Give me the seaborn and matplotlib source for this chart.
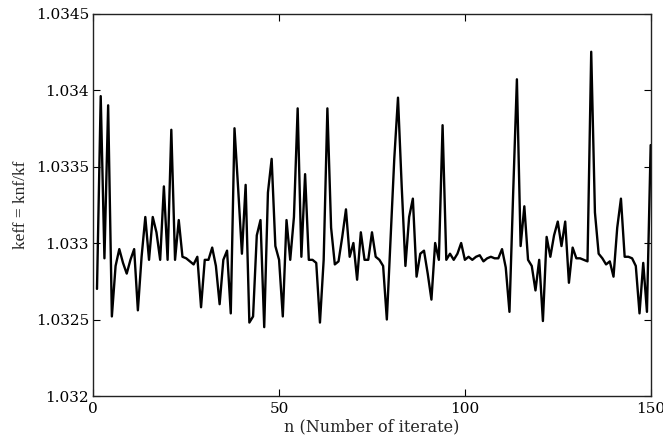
#!/usr/bin/env python3
"""
keff convergence trace: keff = knf/kf against iterate number.
"""
import numpy as np
import pandas as pd
import matplotlib
matplotlib.use("Agg")
import matplotlib.pyplot as plt
import seaborn as sns

# ---- Data ----
iterate = list(range(1, 151))
keff = [
    1.03270, 1.03396, 1.03290, 1.03390, 1.03252, 1.03285, 1.03296, 1.03287, 1.03280, 1.03289,
    1.03296, 1.03256, 1.03291, 1.03317, 1.03289, 1.03317, 1.03307, 1.03289, 1.03337, 1.03289,
    1.03374, 1.03289, 1.03315, 1.03291, 1.03290, 1.03288, 1.03286, 1.03291, 1.03258, 1.03289,
    1.03289, 1.03297, 1.03285, 1.03260, 1.03289, 1.03295, 1.03254, 1.03375, 1.03335, 1.03293,
    1.03338, 1.03248, 1.03252, 1.03305, 1.03315, 1.03245, 1.03333, 1.03355, 1.03298, 1.03289,
    1.03252, 1.03315, 1.03289, 1.03317, 1.03388, 1.03291, 1.03345, 1.03289, 1.03289, 1.03287,
    1.03248, 1.03289, 1.03388, 1.03310, 1.03286, 1.03288, 1.03304, 1.03322, 1.03291, 1.03300,
    1.03276, 1.03307, 1.03289, 1.03289, 1.03307, 1.03291, 1.03289, 1.03285, 1.03250, 1.03302,
    1.03355, 1.03395, 1.03337, 1.03285, 1.03317, 1.03329, 1.03278, 1.03293, 1.03295, 1.03280,
    1.03263, 1.03300, 1.03289, 1.03377, 1.03289, 1.03293, 1.03289, 1.03293, 1.03300, 1.03289,
    1.03291, 1.03289, 1.03291, 1.03292, 1.03288, 1.03290, 1.03291, 1.03290, 1.03290, 1.03296,
    1.03284, 1.03255, 1.03333, 1.03407, 1.03298, 1.03324, 1.03289, 1.03285, 1.03269, 1.03289,
    1.03249, 1.03304, 1.03291, 1.03305, 1.03314, 1.03298, 1.03314, 1.03274, 1.03297, 1.03290,
    1.03290, 1.03289, 1.03288, 1.03425, 1.03320, 1.03293, 1.03290, 1.03286, 1.03288, 1.03278,
    1.03310, 1.03329, 1.03291, 1.03291, 1.03290, 1.03285, 1.03254, 1.03287, 1.03255, 1.03364,
]
x_ticks = [0, 50, 100, 150]
y_ticks = [1.032, 1.0325, 1.033, 1.0335, 1.034, 1.0345]
y_tick_labels = ["1.032", "1.0325", "1.033", "1.0335", "1.034", "1.0345"]

df = pd.DataFrame({"n": iterate, "keff": keff})

# ---- Style ----
sns.set_style("ticks")
plt.rcParams["font.family"] = ["DejaVu Serif"]
plt.rcParams["axes.edgecolor"] = "#222222"
plt.rcParams["axes.linewidth"] = 1.0

fig = plt.figure(figsize=(6.63, 4.40), dpi=100)
ax = fig.add_axes([0.1407, 0.1, 0.8407, 0.8693])

sns.lineplot(data=df, x="n", y="keff", ax=ax, color="black",
             linewidth=1.7, estimator=None)

ax.set_xlim(0, 150)
ax.set_ylim(1.032, 1.0345)
ax.set_xticks(x_ticks)
ax.set_xticklabels([str(t) for t in x_ticks])
ax.set_yticks(y_ticks)
ax.set_yticklabels(y_tick_labels)

ax.tick_params(direction="in", length=5, width=0.8, top=True, right=True,
               labelsize=11, colors="black")
ax.tick_params(axis="x", pad=4)
ax.tick_params(axis="y", pad=3)

for side in ["top", "right", "left", "bottom"]:
    ax.spines[side].set_visible(True)

ax.set_xlabel("n (Number of iterate)", fontsize=11.5, labelpad=2)
ax.set_ylabel("keff = knf/kf", fontsize=12.5, fontfamily="Liberation Serif",
              labelpad=5)
ax.grid(False)

fig.savefig("out.png", dpi=100)
plt.close(fig)
